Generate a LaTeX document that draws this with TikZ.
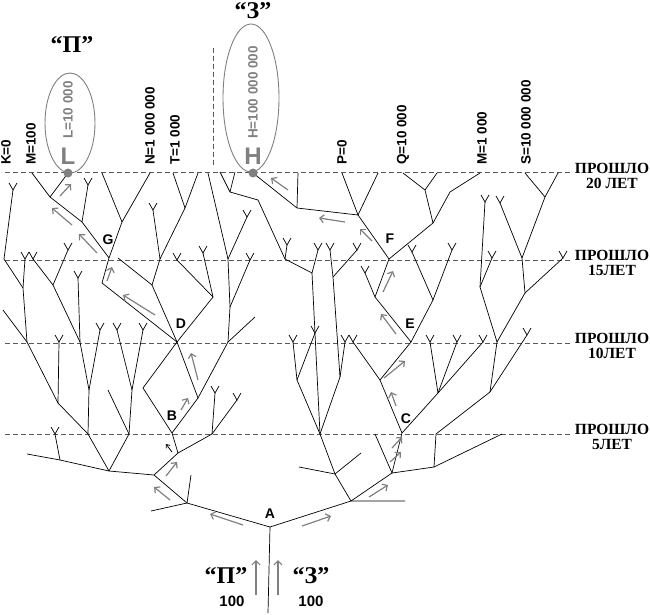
\documentclass[tikz,border=0pt]{standalone}
\usepackage{fontspec}
\setmainfont{Liberation Serif}
\newfontfamily\sans{Liberation Sans}
\usetikzlibrary{arrows.meta}
\begin{document}
\begin{tikzpicture}[x=1pt,y=-1pt,
 tr/.style={line width=0.7pt,black},
 dl/.style={dashed,line width=0.8pt,gray!70!black,dash pattern=on 5pt off 3pt},
 ga/.style={gray,line width=1.2pt,-{Straight Barb[length=4pt,width=8pt]}},
 lab/.style={font=\sans\bfseries\fontsize{14}{14}\selectfont},
 val/.style={font=\sans\bfseries\fontsize{13.5}{13.5}\selectfont,rotate=90,anchor=west,inner sep=1pt},
 rt/.style={font=\bfseries\fontsize{15.5}{15}\selectfont,align=center,inner sep=0pt},
 big/.style={font=\bfseries\fontsize{24}{24}\selectfont},
 vv/.pic={\draw[tr] (-4,-7)--(0,0)--(4,-7);}]
\useasboundingbox (0,0) rectangle (650,615);
% dashed lines
\foreach \y in {172,260,343,434} \draw[dl] (5,\y)--(572,\y);
\draw[dl] (213,48)--(213,165);
\node[rt] (t20) at (612,176) {ПРОШЛО\\20 ЛЕТ};
\node[rt] (t15) at (612,263) {ПРОШЛО\\15ЛЕТ};
\node[rt] (t10) at (612,346) {ПРОШЛО\\10ЛЕТ};
\node[rt] (t5) at (612,437) {ПРОШЛО\\5ЛЕТ};
% ---- left tree
\draw[tr] (268,613)--(270,527);
\draw[tr] (270,527)--(187,503)--(151,511);
\draw[tr] (187,503)--(191,475);
\draw[tr] (187,503)--(154,475)--(109,471)--(60,460)--(27,454);
\draw[tr] (109,471)--(88,434)--(58,403)--(27,342)--(3,310);
\draw[tr] (60,460)--(55,434);
\draw[tr] (109,471)--(129,434)--(132,390)--(143,330);
\draw[tr] (132,390)--(117,330); \draw[tr] (129,434)--(108,390);
\draw[tr] (88,434)--(89,390)--(80,342)--(53,285)--(33,259);
\draw[tr] (89,390)--(100,330); \draw[tr] (53,285)--(68,250);
\draw[tr] (80,342)--(78,278);
\draw[tr] (58,403)--(59,342);
\draw[tr] (27,342)--(23,288)--(4,259)--(13,190); \draw[tr] (23,288)--(25,259);
\draw[tr] (154,475)--(178,453)--(172,433);
\draw[tr] (178,453)--(212,434)--(237,400); \draw[tr] (212,434)--(215,393);
\draw[tr] (172,433)--(198,398)--(177,342);
\draw[tr] (172,433)--(143,388)--(177,342);
\draw[tr] (198,398)--(228,342)--(255,317);
\draw[tr] (177,342)--(152,285)--(118,258);
\draw[tr] (152,285)--(160,259)--(185,208)--(198,173); \draw[tr] (185,208)--(173,173);
\draw[tr] (160,259)--(153,210);
\draw[tr] (177,342)--(102,283)--(109,258);
\draw[tr] (177,342)--(213,297)--(177,260); \draw[tr] (213,297)--(203,253);
\draw[tr] (228,342)--(230,307)--(228,259)--(208,173); \draw[tr] (230,307)--(250,260);
\draw[tr] (228,259)--(247,217);
\draw[tr] (109,258)--(82,222)--(50,197)--(32,173); \draw[tr] (50,197)--(68,173);
\draw[tr] (82,222)--(88,185);
\draw[tr] (109,258)--(122,222)--(150,173); \draw[tr] (122,222)--(102,173);
% ---- right tree
\draw[tr] (270,527)--(351,501)--(405,501);
\draw[tr] (351,501)--(335,474)--(320,434)--(297,380)--(293,342);
\draw[tr] (335,474)--(299,467); \draw[tr] (335,474)--(361,453);
\draw[tr] (297,380)--(315,333);
\draw[tr] (320,434)--(340,377)--(345,342); \draw[tr] (340,377)--(333,277)--(330,250);
\draw[tr] (333,277)--(357,250);
\draw[tr] (320,434)--(312,273)--(285,259)--(258,200)--(230,192)--(220,172);
\draw[tr] (312,273)--(318,250); \draw[tr] (285,259)--(287,245); \draw[tr] (230,192)--(235,172);
\draw[tr] (351,501)--(392,473)--(402,433); \draw[tr] (392,473)--(375,434);
\draw[tr] (392,473)--(434,467)--(436,434); \draw[tr] (434,467)--(502,434);
\draw[tr] (402,433)--(380,380)--(411,342); \draw[tr] (380,380)--(353,342);
\draw[tr] (402,433)--(438,393)--(483,342); \draw[tr] (438,393)--(430,342); \draw[tr] (438,393)--(457,342);
\draw[tr] (436,434)--(490,392)--(497,342)--(480,287)--(485,202); \draw[tr] (480,287)--(492,258);
\draw[tr] (490,392)--(527,335);
\draw[tr] (497,342)--(525,293)--(522,258)--(500,203); \draw[tr] (522,258)--(545,197)--(558,173);
\draw[tr] (545,197)--(525,173); \draw[tr] (525,293)--(563,258);
\draw[tr] (411,342)--(375,297)--(389,259); \draw[tr] (375,297)--(365,273);
\draw[tr] (411,342)--(433,300)--(452,250); \draw[tr] (433,300)--(412,252);
\draw[tr] (389,259)--(358,215)--(297,208)--(253,173); \draw[tr] (297,208)--(298,173);
\draw[tr] (358,215)--(342,173); \draw[tr] (358,215)--(378,173);
\draw[tr] (389,259)--(433,223)--(425,190)--(403,173); \draw[tr] (425,190)--(437,173);
\draw[tr] (433,223)--(450,192)--(480,173);
% twigs
\foreach \p in {(13,190),(88,185),(153,210),(247,217),(68,250),(177,260),(203,253),(250,260),
 (143,330),(117,330),(100,330),(78,278),(59,342),(55,434),(25,259),(33,259),(215,393),(237,400),
 (315,333),(293,342),(345,342),(330,250),(357,250),(318,250),(287,245),(365,273),(412,252),(452,250),
 (430,342),(457,342),(483,342),(527,335),(485,202),(500,203),(492,258),(563,258),(353,342)}
 \pic at \p {vv};
% ellipses and points
\draw[gray,line width=0.9pt] (70,123) ellipse (25 and 50);
\draw[gray,line width=0.9pt] (251,98) ellipse (28 and 74);
\fill[gray] (68,173) circle (4.5); \fill[gray] (253,173) circle (4.5);
\node[font=\sans\bfseries\fontsize{24}{24}\selectfont,text=gray] (L) at (68,156) {L};
\node[font=\sans\bfseries\fontsize{24}{24}\selectfont,text=gray] (H) at (253,156) {H};
\node[val,text=gray] (vL) at (68,140) {L=10 000};
\node[val,text=gray] (vH) at (253,140) {H=100 000 000};
\node[val] (vK) at (6,166) {K=0};
\node[val] (vM) at (31,166) {M=100};
\node[val] (vN) at (150,166) {N=1 000 000};
\node[val] (vT) at (175,166) {T=1 000};
\node[val] (vP) at (342,166) {P=0};
\node[val] (vQ) at (403,166) {Q=10 000};
\node[val] (vM2) at (482,166) {M=1 000};
\node[val] (vS) at (526,166) {S=10 000 000};
\node[big] (qP) at (72,45) {“П”};
\node[big] (qZ) at (253,11) {“З”};
\node[big] (bP) at (226,576) {“П”};
\node[big] (bZ) at (311,576) {“З”};
\node[font=\sans\bfseries\fontsize{15}{15}\selectfont] (n1) at (232,601) {100};
\node[font=\sans\bfseries\fontsize{15}{15}\selectfont] (n2) at (311,601) {100};
% letters
\node[lab] (A) at (270,514) {A};
\node[lab] (B) at (172,416) {B};
\node[lab] (C) at (406,419) {C};
\node[lab] (D) at (181,324) {D};
\node[lab] (E) at (410,324) {E};
\node[lab] (F) at (390,239) {F};
\node[lab] (G) at (108,240) {G};
% arrows
\draw[ga] (256,595)--(256,560); \draw[ga] (278,595)--(278,560);
\draw[ga] (243,525)--(210,514); \draw[ga] (302,526)--(331,516);
\draw[ga] (170,500)--(154,487); \draw[ga] (369,497)--(388,485);
\draw[ga] (166,476)--(177,462);
\draw[ga] (390,462)--(401,452); \draw[ga] (392,448)--(402,437);
\draw[ga] (181,410)--(188,398);
\draw[line width=0.8pt,-{Straight Barb[length=3pt,width=5pt]}] (172,452)--(166,444);
\draw[ga] (198,380)--(191,353);
\draw[ga] (396,406)--(391,392); \draw[ga] (384,378)--(405,361);
\draw[ga] (396,334)--(381,314);
\draw[ga] (155,315)--(123,295); \draw[ga] (107,281)--(112,267);
\draw[ga] (97,253)--(79,234); \draw[ga] (72,225)--(52,208); \draw[ga] (60,196)--(71,184);
\draw[ga] (383,292)--(393,271); \draw[ga] (372,241)--(360,229);
\draw[ga] (345,222)--(319,218); \draw[ga] (288,190)--(271,178);
\end{tikzpicture}
\end{document}
